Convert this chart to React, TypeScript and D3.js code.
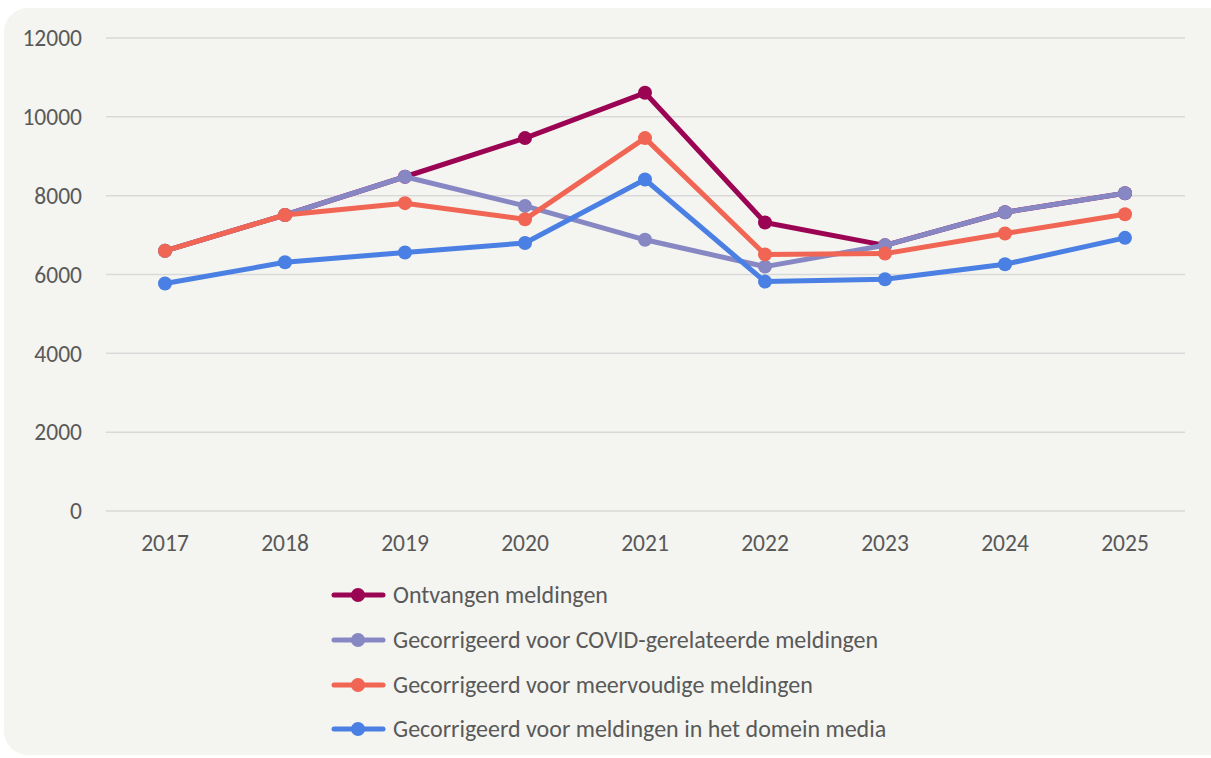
import React, { useEffect, useRef } from 'react';
import { select, scaleLinear, scalePoint, line } from 'd3';

const years = ['2017', '2018', '2019', '2020', '2021', '2022', '2023', '2024', '2025'];
const yTicks = [0, 2000, 4000, 6000, 8000, 10000, 12000];

const ontvangen = [6600, 7510, 8480, 9460, 10610, 7320, 6740, 7580, 8060];
const covid = [6600, 7510, 8480, 7740, 6880, 6200, 6740, 7580, 8060];
const meervoudig = [6600, 7510, 7810, 7400, 9460, 6510, 6530, 7040, 7530];
const media = [5770, 6310, 6560, 6800, 8410, 5820, 5880, 6260, 6930];

const seriesNames = [
  'Ontvangen meldingen',
  'Gecorrigeerd voor COVID-gerelateerde meldingen',
  'Gecorrigeerd voor meervoudige meldingen',
  'Gecorrigeerd voor meldingen in het domein media'
];
const seriesColors = ['#9b0452', '#8787c4', '#f06553', '#4a7fe3'];
const seriesValues = [ontvangen, covid, meervoudig, media];

export default function App() {
  const ref = useRef<SVGSVGElement>(null);

  useEffect(() => {
    const svg = select(ref.current);
    svg.selectAll('*').remove();
    const font = "Carlito, 'Open Sans', sans-serif";

    svg.append('rect')
      .attr('x', 4).attr('y', 8)
      .attr('width', 1230).attr('height', 747)
      .attr('rx', 24)
      .attr('fill', '#f4f4f0');

    const x = scalePoint().domain(years).range([165, 1125]);
    const y = scaleLinear().domain([0, 12000]).range([511, 38]);

    // grid + y labels
    const grid = svg.append('g');
    yTicks.forEach(t => {
      grid.append('line')
        .attr('x1', 106).attr('x2', 1185)
        .attr('y1', y(t)).attr('y2', y(t))
        .attr('stroke', '#d9d9d9').attr('stroke-width', 1.5);
      grid.append('text')
        .attr('x', 82).attr('y', y(t))
        .attr('dy', '0.35em')
        .attr('text-anchor', 'end')
        .attr('font-family', font)
        .attr('font-size', 23.5)
        .attr('fill', '#595959')
        .text(t);
    });

    years.forEach(yr => {
      svg.append('text')
        .attr('x', x(yr)!).attr('y', 543)
        .attr('dy', '0.35em')
        .attr('text-anchor', 'middle')
        .attr('font-family', font)
        .attr('font-size', 23.5)
        .attr('fill', '#595959')
        .text(yr);
    });

    const lineGen = line<number>()
      .x((d, i) => x(years[i])!)
      .y(d => y(d));

    seriesValues.forEach((vals, s) => {
      const g = svg.append('g');
      g.append('path')
        .attr('d', lineGen(vals)!)
        .attr('fill', 'none')
        .attr('stroke', seriesColors[s])
        .attr('stroke-width', 5)
        .attr('stroke-linejoin', 'round');
      g.selectAll('circle')
        .data(vals)
        .enter()
        .append('circle')
        .attr('cx', (d, i) => x(years[i])!)
        .attr('cy', d => y(d))
        .attr('r', 7)
        .attr('fill', seriesColors[s]);
    });

    // legend
    const legendY = [595, 640, 685, 729];
    seriesNames.forEach((name, s) => {
      const g = svg.append('g').attr('transform', `translate(0, ${legendY[s]})`);
      g.append('line')
        .attr('x1', 334).attr('x2', 383)
        .attr('stroke', seriesColors[s])
        .attr('stroke-width', 5)
        .attr('stroke-linecap', 'round');
      g.append('circle').attr('cx', 358).attr('r', 7).attr('fill', seriesColors[s]);
      g.append('text')
        .attr('x', 393).attr('dy', '0.35em')
        .attr('font-family', font)
        .attr('font-size', 24)
        .attr('fill', '#595959')
        .text(name);
    });
  }, []);

  return (
    <svg ref={ref} width={1211} height={758} style={{ position: 'absolute', left: 0, top: 0 }} />
  );
}
